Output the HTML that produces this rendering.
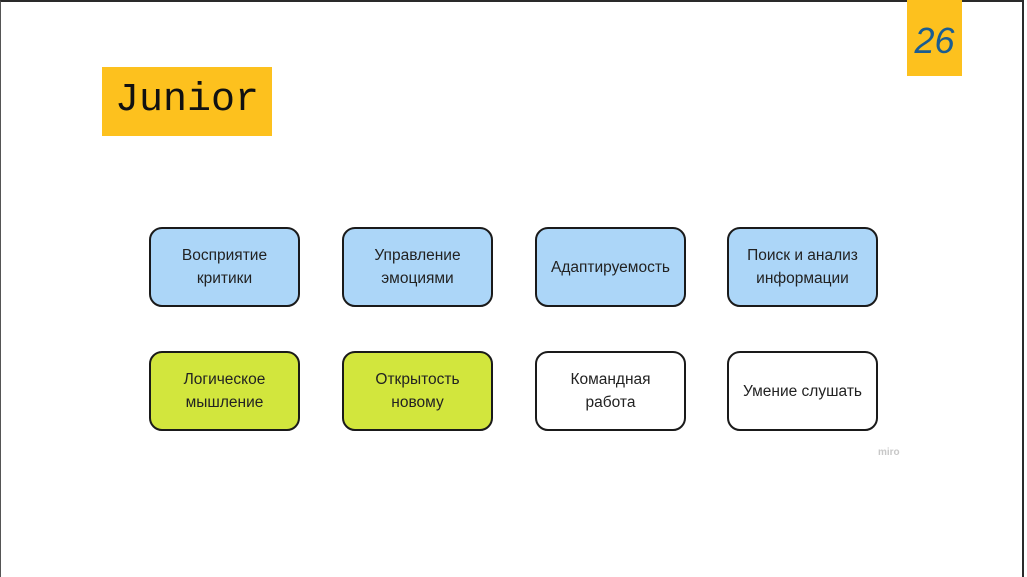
<!DOCTYPE html>
<html><head><meta charset="utf-8"><style>
body{margin:0;width:1027px;height:577px;background:#fff;position:relative;overflow:hidden;font-family:"Liberation Sans","DejaVu Sans",sans-serif}
.frame{position:absolute;left:0;top:0;width:1024px;height:577px;border-top:2px solid #2a2a2a;border-left:1px solid #555;border-right:2px solid #2a2a2a;box-sizing:border-box}
.y{position:absolute;background:#fdc11e}
.b{position:absolute;width:151px;height:80px;border:2.5px solid #1a1a1a;border-radius:13px;box-sizing:border-box;display:flex;align-items:center;justify-content:center;text-align:center;line-height:23px;color:#222;font-family:"Liberation Sans","DejaVu Sans",sans-serif;font-size:15.5px}
.bl{background:#acd6f8}.g{background:#d2e63d}.w{background:#fff}
</style></head><body>
<div class="frame"></div>
<div class="y" style="left:907px;top:0;width:55px;height:76px"></div>
<div style="position:absolute;left:907px;top:21px;width:55px;text-align:center;font-size:36px;font-style:italic;color:#1a5d92;line-height:40px">26</div>
<div class="y" style="left:102px;top:67px;width:170px;height:69px"></div>
<div style="position:absolute;left:102px;top:78px;width:170px;text-align:center;font-family:'Liberation Mono',monospace;font-size:40px;line-height:46px;color:#111">Junior</div>
<div class="b bl" style="left:149px;top:227px">Восприятие<br>критики</div>
<div class="b bl" style="left:342px;top:227px">Управление<br>эмоциями</div>
<div class="b bl" style="left:535px;top:227px">Адаптируемость</div>
<div class="b bl" style="left:727px;top:227px">Поиск и анализ<br>информации</div>
<div class="b g" style="left:149px;top:351px">Логическое<br>мышление</div>
<div class="b g" style="left:342px;top:351px">Открытость<br>новому</div>
<div class="b w" style="left:535px;top:351px">Командная<br>работа</div>
<div class="b w" style="left:727px;top:351px">Умение слушать</div>
<div style="position:absolute;left:878px;top:447px;font-size:10px;color:#c8c8c8;font-weight:bold">miro</div>
</body></html>
